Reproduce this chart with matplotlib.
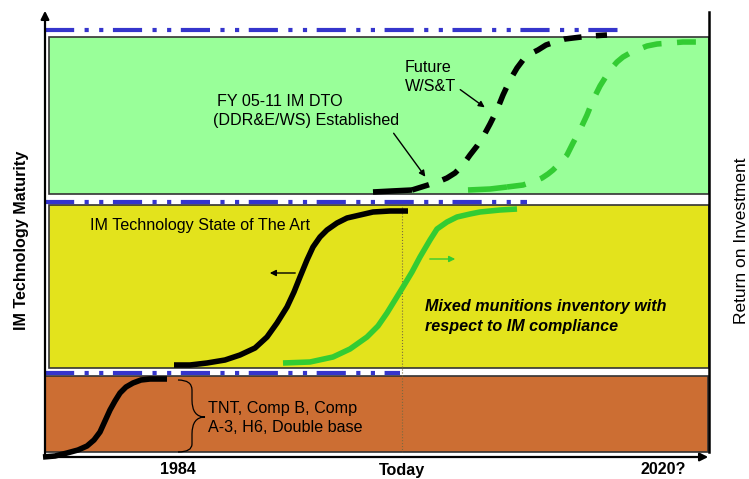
import matplotlib.pyplot as plt
from matplotlib.path import Path
from matplotlib.patches import PathPatch

plt.rcParams['font.family'] = ['Liberation Sans', 'DejaVu Sans']

# the chart is a concept sketch, values read in picture units (x right, y down)
band_names = ["Future W/S&T", "IM State of The Art", "Legacy explosives"]
band_left = [49, 49, 45]
band_right = [709, 709, 708]
band_top = [37, 205, 376]
band_bottom = [194, 368, 452]
band_colors = ["#99FF99", "#E3E31C", "#CC6E33"]

# blue dash-dot levels above each band
level_y = [30, 202, 373]
level_end = [623, 527, 400]

# S-curves
legacy_x = [43, 55, 67, 78, 87, 94, 100, 105, 110, 115, 120, 126, 133, 141, 150, 167]
legacy_y = [457, 456, 453, 450, 446, 440, 432, 421, 410, 401, 393, 387, 383, 380, 379, 379]

sota_x = [174, 190, 207, 225, 240, 255, 267, 277, 287, 294, 300, 307, 313, 320, 327, 337, 347, 360, 373, 390, 408]
sota_y = [365, 365, 363, 360, 355, 348, 337, 323, 307, 292, 277, 260, 247, 237, 230, 223, 218, 215, 212, 211, 211]

inv_x = [283, 310, 333, 350, 367, 378, 387, 395, 403, 412, 420, 430, 437, 447, 457, 470, 480, 500, 517]
inv_y = [363, 362, 357, 349, 337, 326, 313, 300, 287, 272, 257, 240, 229, 222, 217, 214, 212, 210, 209]

fut_x = [373, 392, 412, 428, 440, 447, 455, 460, 465, 470, 477, 483, 490, 497, 503, 510, 517, 523, 530, 538, 546, 555, 565, 573, 590, 607]
fut_y = [192, 191, 190, 185, 181, 178, 173, 168, 162, 155, 146, 137, 124, 110, 95, 80, 68, 60, 54, 50, 45, 42, 39, 38, 36, 35]

next_x = [468, 490, 507, 523, 535, 542, 548, 553, 560, 567, 573, 580, 587, 593, 600, 610, 617, 623, 630, 637, 647, 657, 670, 683, 703]
next_y = [190, 189, 187, 185, 181, 178, 174, 170, 163, 155, 143, 130, 115, 100, 86, 70, 62, 57, 53, 50, 46, 44, 43, 42, 42]

time_labels = ["1984", "Today", "2020?"]
time_pos = [178, 402, 663]

fig = plt.figure(figsize=(7.49, 4.79), dpi=100)
ax = fig.add_axes([0, 0, 1, 1])
ax.set_xlim(0, 749)
ax.set_ylim(479, 0)
ax.axis('off')

# bands
for i in range(3):
    ax.bar(band_left[i], band_bottom[i] - band_top[i], width=band_right[i] - band_left[i],
           bottom=band_top[i], align='edge', color=band_colors[i],
           edgecolor='#333333', linewidth=1.2, zorder=1)

# dotted "today" line
ax.plot([time_pos[1], time_pos[1]], [207, 452], color='#7a6a40', lw=0.8, ls=':', zorder=2)

# blue dash-dot-dot lines
for y, x1 in zip(level_y, level_end):
    ax.plot([45, x1], [y, y], color='#3535CC', lw=3.0, solid_capstyle='butt',
            dashes=(7, 2.5, 1, 2.5, 1, 2.3), dash_capstyle='butt', zorder=3)

# curves
ax.plot(legacy_x, legacy_y, color='black', lw=4, solid_capstyle='butt', zorder=4)
ax.plot(sota_x, sota_y, color='black', lw=4, solid_capstyle='butt', zorder=4)
ax.plot(inv_x, inv_y, color='#33CC33', lw=4, solid_capstyle='butt', zorder=4)
ax.plot(fut_x[:3], fut_y[:3], color='black', lw=4, solid_capstyle='butt', zorder=4)
ax.plot(fut_x[2:], fut_y[2:], color='black', lw=4, dashes=(3.2, 2.6), dash_capstyle='butt', zorder=4)
ax.plot(next_x[:3], next_y[:3], color='#33CC33', lw=4, solid_capstyle='butt', zorder=4)
ax.plot(next_x[2:], next_y[2:], color='#33CC33', lw=4, dashes=(3.4, 2.8), dash_capstyle='butt', zorder=4)

# axes with arrows
ax.annotate('', xy=(45, 8), xytext=(45, 459),
            arrowprops=dict(arrowstyle='-|>', color='black', lw=1.6, mutation_scale=12), zorder=5)
ax.annotate('', xy=(711, 457), xytext=(43, 457),
            arrowprops=dict(arrowstyle='-|>', color='black', lw=1.6, mutation_scale=12), zorder=5)
ax.plot([709, 709], [12, 452], color='black', lw=1.8, zorder=5)

# small direction arrows
ax.annotate('', xy=(267, 273), xytext=(298, 273),
            arrowprops=dict(arrowstyle='-|>', color='black', lw=1.0, mutation_scale=9))
ax.annotate('', xy=(458, 259), xytext=(427, 259),
            arrowprops=dict(arrowstyle='-|>', color='#33CC33', lw=1.0, mutation_scale=9))
ax.annotate('', xy=(427, 179), xytext=(392, 131),
            arrowprops=dict(arrowstyle='-|>', color='black', lw=1.0, mutation_scale=9))
ax.annotate('', xy=(487, 109), xytext=(458, 88),
            arrowprops=dict(arrowstyle='-|>', color='black', lw=1.0, mutation_scale=9))

# brace
brace = Path([(178, 380), (192, 380), (192, 390), (192, 400), (192, 417), (205, 417),
              (192, 417), (192, 434), (192, 444), (192, 452), (178, 452)],
             [Path.MOVETO, Path.CURVE3, Path.CURVE3, Path.LINETO, Path.CURVE3, Path.CURVE3,
              Path.CURVE3, Path.CURVE3, Path.LINETO, Path.CURVE3, Path.CURVE3])
ax.add_patch(PathPatch(brace, fill=False, edgecolor='black', lw=0.9, zorder=5))

# texts
fs = 11.6
ax.text(217, 101, "FY 05-11 IM DTO", fontsize=fs, va='center', ha='left')
ax.text(213, 120, "(DDR&E/WS) Established", fontsize=fs, va='center', ha='left')
ax.text(405, 67, "Future", fontsize=fs, va='center', ha='left')
ax.text(405, 86, "W/S&T", fontsize=fs, va='center', ha='left')
ax.text(90, 225, "IM Technology State of The Art", fontsize=fs, va='center', ha='left')
ax.text(425, 307, "Mixed munitions inventory with", fontsize=fs, va='center', ha='left',
        fontweight='bold', fontstyle='italic')
ax.text(425, 327, "respect to IM compliance", fontsize=fs, va='center', ha='left',
        fontweight='bold', fontstyle='italic')
ax.text(208, 408, "TNT, Comp B, Comp", fontsize=fs, va='center', ha='left')
ax.text(208, 428, "A-3, H6, Double base", fontsize=fs, va='center', ha='left')
for lab, xp in zip(time_labels, time_pos):
    ax.text(xp, 470, lab, fontsize=fs, ha='center', va='center', fontweight='bold')
ax.text(22, 240, "IM Technology Maturity", fontsize=fs, rotation=90, ha='center', va='center',
        fontweight='bold')
ax.text(741, 241, "Return on Investment", fontsize=12.5, rotation=90, ha='center', va='center')

fig.savefig("out.png", dpi=100)
